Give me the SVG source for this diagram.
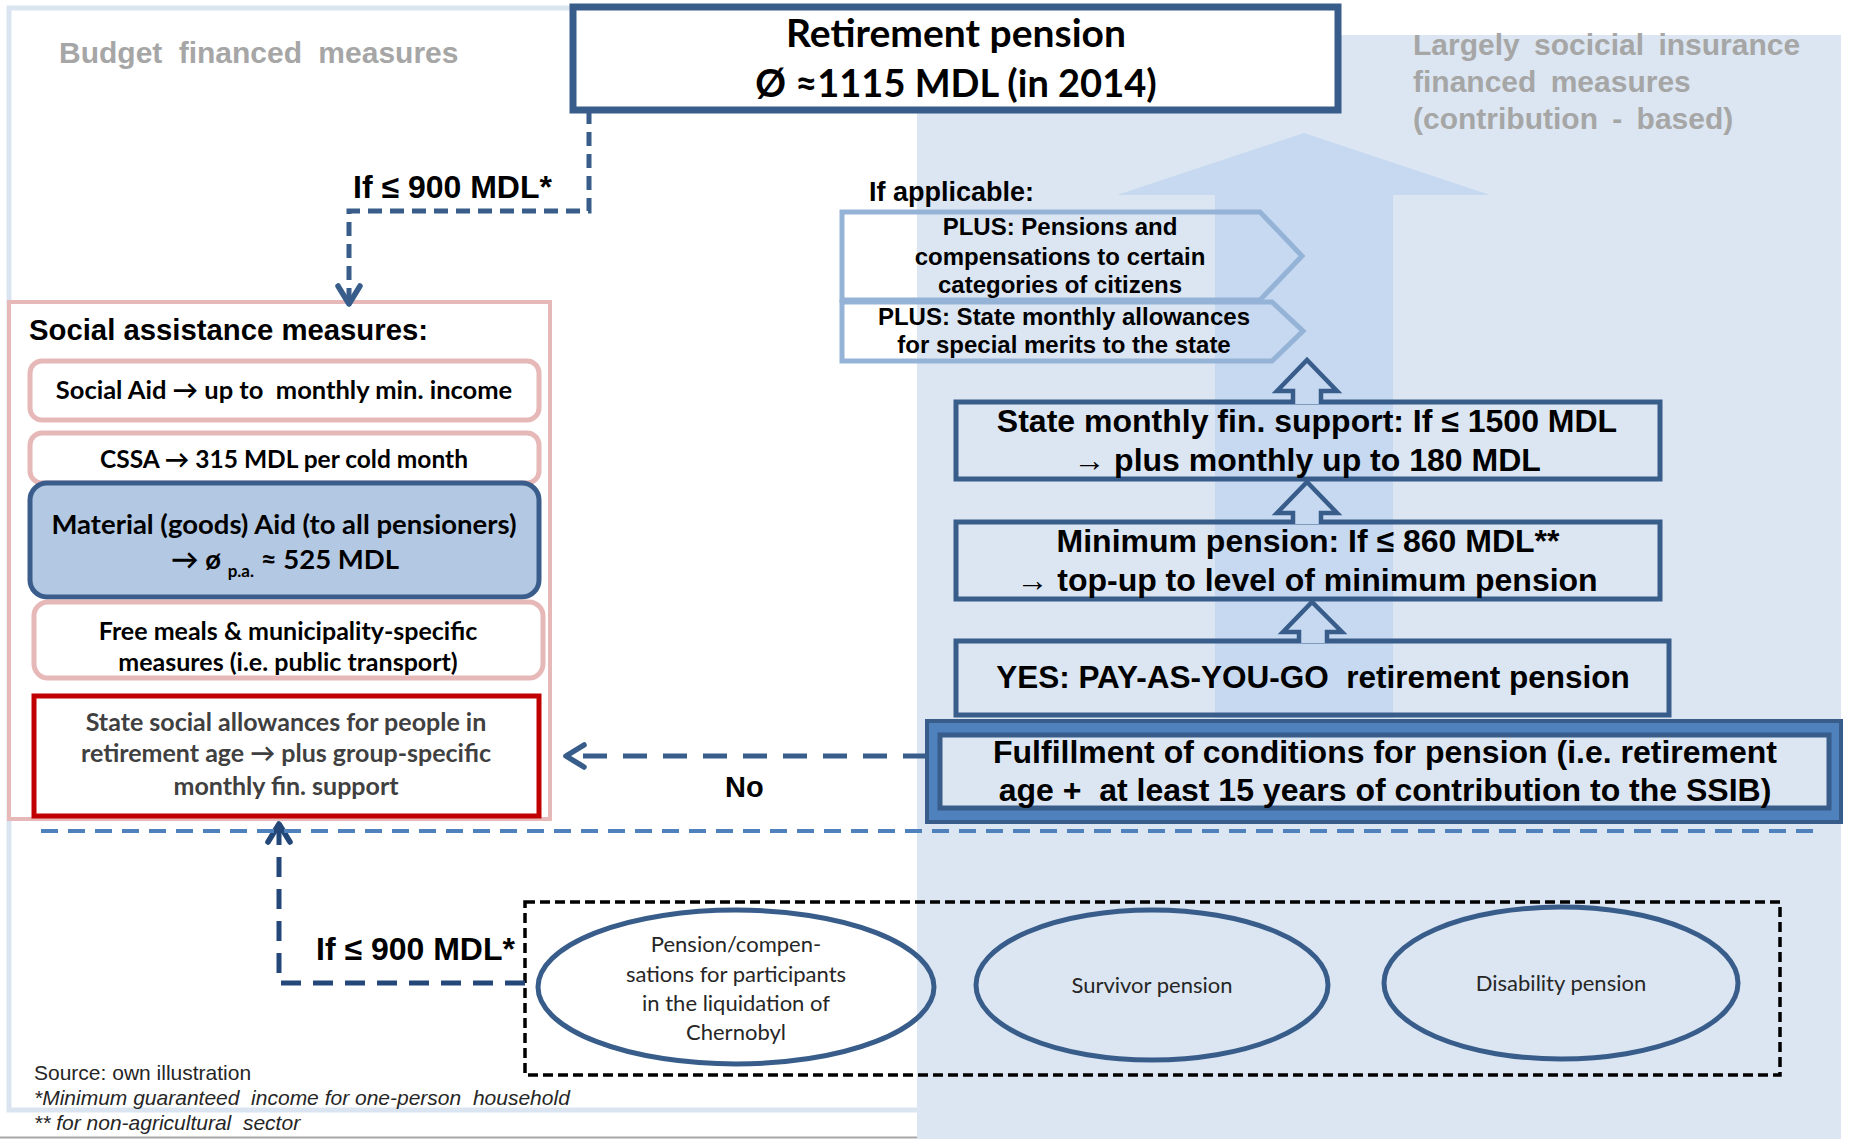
<svg xmlns="http://www.w3.org/2000/svg" width="1849" height="1139" viewBox="0 0 1849 1139">
<style>
.ar{font-family:"Liberation Sans",Arial,sans-serif}
.ca{font-family:Lato,"Liberation Sans",sans-serif}
.b{font-weight:bold}
.gray{fill:#a6a6a6}
.pink{fill:#fff;stroke:#e6b9b8;stroke-width:5}
.dbox{fill:none;stroke:#385d8a;stroke-width:5}
.chev{fill:none;stroke:#95b3d7;stroke-width:5;stroke-linejoin:miter}
.hup{fill:#c6d9f1;stroke:#385d8a;stroke-width:4.5;stroke-linejoin:miter}
.ell{fill:none;stroke:#385d8a;stroke-width:5}
.dash1{fill:none;stroke:#385d8a;stroke-width:5;stroke-dasharray:14 8}
.dash2{fill:none;stroke:#385d8a;stroke-width:5;stroke-dasharray:24 16}
.dash3{fill:none;stroke:#24477a;stroke-width:5;stroke-dasharray:20 12}
.sep{fill:none;stroke:#4f81bd;stroke-width:4;stroke-dasharray:17 10}
</style>
<defs>
<marker id="va" viewBox="0 0 24 28" refX="21" refY="14" markerWidth="24" markerHeight="28" markerUnits="userSpaceOnUse" orient="auto">
<path d="M3,3 L21,14 L3,25" fill="none" stroke="#385d8a" stroke-width="5.5" stroke-linecap="round" stroke-linejoin="round"/>
</marker>
<marker id="vb" viewBox="0 0 24 28" refX="21" refY="14" markerWidth="24" markerHeight="28" markerUnits="userSpaceOnUse" orient="auto">
<path d="M3,3 L21,14 L3,25" fill="none" stroke="#24477a" stroke-width="5.5" stroke-linecap="round" stroke-linejoin="round"/>
</marker>
</defs>
<rect x="0" y="0" width="1849" height="1139" fill="#fff"/>
<g id="left-panel">
<rect x="9" y="8" width="917" height="1102" fill="none" stroke="#dbe5f1" stroke-width="5"/>
<line x1="0" y1="1137.5" x2="917" y2="1137.5" stroke="#a6a6a6" stroke-width="2"/>
</g>
<g id="right-panel">
<rect x="917" y="35" width="924" height="1104" fill="#dce6f2"/>
<polygon points="1215,718 1215,195 1117,195 1304,133 1490,195 1393,195 1393,718" fill="#c6d9f1"/>
</g>
<text class="ar b gray" x="59" y="63" font-size="30" word-spacing="8">Budget financed measures</text>
<g class="ar b gray" font-size="30" word-spacing="6">
<text x="1413" y="55">Largely socicial insurance</text>
<text x="1413" y="92">financed measures</text>
<text x="1413" y="129">(contribution - based)</text>
</g>
<g id="retirement-pension">
<rect x="573" y="7" width="765" height="103" fill="#fff" stroke="#385d8a" stroke-width="7"/>
<text class="ca b" x="956" y="47" font-size="39" text-anchor="middle">Retirement pension</text>
<text class="ca b" x="956" y="97" font-size="38" text-anchor="middle">Ø ≈1115 MDL (in 2014)</text>
</g>
<g id="social-assistance">
<rect x="9" y="302" width="541" height="517" fill="#fff" stroke="#e6b9b8" stroke-width="4"/>
<text class="ar b" x="29" y="340" font-size="29.3">Social assistance measures:</text>
</g>
<g id="social-aid">
<rect class="pink" x="30" y="361" width="509" height="59" rx="12"/>
<text class="ca b" x="284" y="399" font-size="25.5" text-anchor="middle" xml:space="preserve">Social Aid → up to  monthly min. income</text>
</g>
<g id="cssa">
<rect class="pink" x="30" y="433" width="509" height="50" rx="12"/>
<text class="ca b" x="284" y="468" font-size="24.5" text-anchor="middle">CSSA → 315 MDL per cold month</text>
</g>
<g id="material-aid">
<rect x="30" y="483" width="509" height="114" rx="17" fill="#b3c8e2" stroke="#3a5d8c" stroke-width="5"/>
<text class="ca b" x="284" y="534" font-size="27.5" text-anchor="middle">Material (goods) Aid (to all pensioners)</text>
<text class="ca b" x="285" y="569" font-size="27.5" text-anchor="middle">→ ø <tspan font-size="17" dy="8">p.a.</tspan><tspan dy="-8"> ≈ 525 MDL</tspan></text>
</g>
<g id="free-meals">
<rect class="pink" x="34" y="602" width="509" height="76" rx="14"/>
<text class="ca b" x="288" y="640" font-size="25" text-anchor="middle">Free meals &amp; municipality-specific</text>
<text class="ca b" x="288" y="671" font-size="25" text-anchor="middle">measures (i.e. public transport)</text>
</g>
<g id="state-social-allowances">
<rect x="34" y="696" width="505" height="120" fill="#fff" stroke="#c00000" stroke-width="5"/>
<g class="ca b" font-size="25" fill="#404040" text-anchor="middle">
<text x="286" y="731">State social allowances for people in</text>
<text x="286" y="762">retirement age → plus group-specific</text>
<text x="286" y="795">monthly fin. support</text>
</g>
</g>
<text class="ar b" x="869" y="201" font-size="27">If applicable:</text>
<g id="plus-pensions">
<polygon class="chev" points="842,212 1260,212 1302,256 1260,300 842,300"/>
<g class="ar b" font-size="24" text-anchor="middle">
<text x="1060" y="235">PLUS: Pensions and</text>
<text x="1060" y="265">compensations to certain</text>
<text x="1060" y="293">categories of citizens</text>
</g>
</g>
<g id="plus-allowances">
<polygon class="chev" points="842,302 1272,302 1303,331 1272,361 842,361"/>
<g class="ar b" font-size="24" text-anchor="middle">
<text x="1064" y="325">PLUS: State monthly allowances</text>
<text x="1064" y="353">for special merits to the state</text>
</g>
</g>
<g id="state-monthly-support">
<rect class="dbox" x="956" y="402" width="704" height="77"/>
<text class="ar b" x="1307" y="432" font-size="32" text-anchor="middle">State monthly fin. support: If ≤ 1500 MDL</text>
<text class="ar b" x="1307" y="471" font-size="32" text-anchor="middle">→ plus monthly up to 180 MDL</text>
</g>
<g id="minimum-pension">
<rect class="dbox" x="956" y="522" width="704" height="77"/>
<text class="ar b" x="1308" y="552" font-size="32" text-anchor="middle">Minimum pension: If ≤ 860 MDL**</text>
<text class="ar b" x="1307" y="591" font-size="32" text-anchor="middle">→ top-up to level of minimum pension</text>
</g>
<g id="yes-payg">
<rect class="dbox" x="956" y="641" width="713" height="74"/>
<text class="ar b" x="1313" y="688" font-size="31.5" text-anchor="middle" xml:space="preserve">YES: PAY-AS-YOU-GO  retirement pension</text>
</g>
<g id="fulfillment">
<rect x="927" y="721" width="914" height="101" fill="#4f81bd" stroke="#385d8a" stroke-width="4"/>
<rect x="940" y="735" width="889" height="73" fill="#dce6f2" stroke="#385d8a" stroke-width="5"/>
<text class="ar b" x="1385" y="763" font-size="32" text-anchor="middle">Fulfillment of conditions for pension (i.e. retirement</text>
<text class="ar b" x="1385" y="801" font-size="32" text-anchor="middle" xml:space="preserve">age +  at least 15 years of contribution to the SSIB)</text>
</g>
<g id="other-pensions">
<rect x="525" y="902" width="1255" height="173" fill="none" stroke="#000" stroke-width="3.5" stroke-dasharray="10 5"/>
</g>
<g id="chernobyl">
<ellipse class="ell" cx="736" cy="987" rx="198" ry="77"/>
<g class="ca" font-size="22" fill="#262626" text-anchor="middle">
<text x="736" y="952">Pension/compen-</text>
<text x="736" y="982">sations for participants</text>
<text x="736" y="1011">in the liquidation of</text>
<text x="736" y="1040">Chernobyl</text>
</g>
</g>
<g id="survivor">
<ellipse class="ell" cx="1152" cy="985" rx="176" ry="75"/>
<text class="ca" x="1152" y="993" font-size="22" fill="#262626" text-anchor="middle">Survivor pension</text>
</g>
<g id="disability">
<ellipse class="ell" cx="1561" cy="983" rx="177" ry="76"/>
<text class="ca" x="1561" y="991" font-size="22" fill="#262626" text-anchor="middle">Disability pension</text>
</g>
<g id="connectors">
<path class="dash1" d="M589,110 V211 H349 V304" marker-end="url(#va)"/>
<path class="dash2" d="M927,756 H566" marker-end="url(#va)"/>
<path class="dash3" d="M525,983 H279 V824" marker-end="url(#vb)"/>
<line class="sep" x1="41" y1="831" x2="1822" y2="831"/>
<path class="hup" d="M1293,404 V391 H1277 L1307,360 L1337,391 H1321 V404"/>
<path class="hup" d="M1293,524 V513 H1277 L1307,482 L1337,513 H1321 V524"/>
<path class="hup" d="M1299,643 V632 H1283 L1312,602 L1342,632 H1327 V643"/>
<text class="ar b" x="353" y="198" font-size="32">If ≤ 900 MDL*</text>
<text class="ar b" x="316" y="960" font-size="32">If ≤ 900 MDL*</text>
<text class="ar b" x="725" y="797" font-size="29">No</text>
</g>
<g class="ar" font-size="21" fill="#262626">
<text x="34" y="1080">Source: own illustration</text>
<text x="34" y="1105" font-style="italic" xml:space="preserve">*Minimum guaranteed  income for one-person  household</text>
<text x="34" y="1130" font-style="italic" xml:space="preserve">** for non-agricultural  sector</text>
</g>
</svg>
